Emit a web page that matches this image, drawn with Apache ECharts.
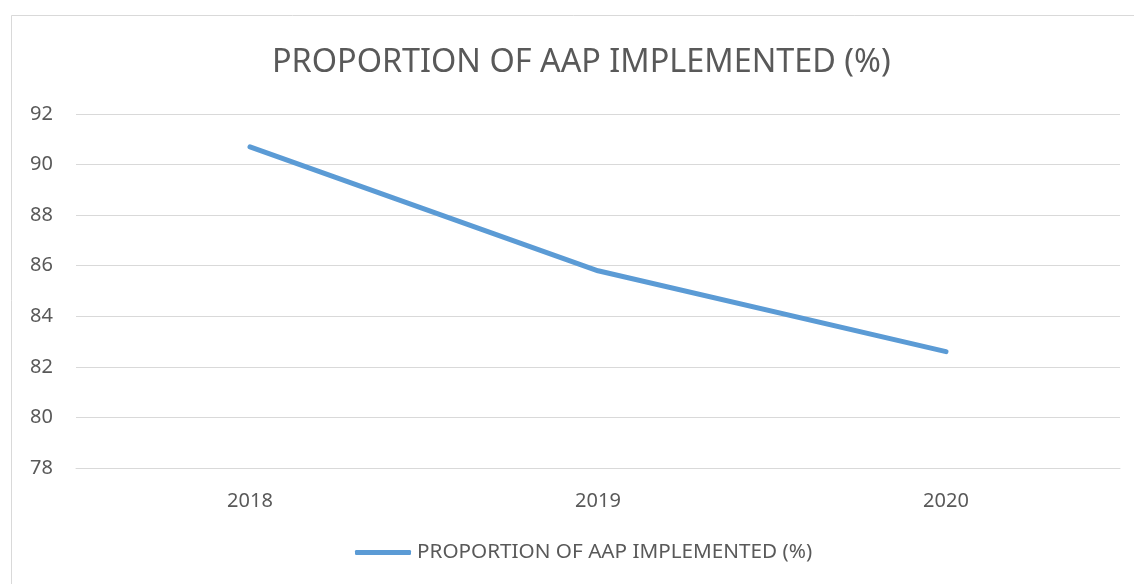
<!DOCTYPE html>
<html>
<head>
<meta charset="utf-8">
<script src="https://cdn.jsdelivr.net/npm/echarts@6/dist/echarts.min.js"></script>
<style>html,body{margin:0;padding:0;background:#fff;}#c{width:1134px;height:584px;}</style>
</head>
<body>
<div id="c"></div>
<script>
var categories = ['2018', '2019', '2020'];
var seriesName = 'PROPORTION OF AAP IMPLEMENTED (%)';
var values = [90.7, 85.8, 82.6];
var titleText = 'PROPORTION OF AAP IMPLEMENTED (%)';

var chart = echarts.init(document.getElementById('c'));
var font = 'Noto Sans';
chart.setOption({
  animation: false,
  backgroundColor: '#fff',
  graphic: [{
    type: 'rect', shape: {x: 11.5, y: 15.5, width: 1140, height: 600},
    style: {fill: 'none', stroke: '#d9d9d9', lineWidth: 1}, silent: true
  }],
  title: {
    text: titleText, left: 267, top: 42,
    textStyle: {fontFamily: font, fontSize: 32.4, fontWeight: 'normal', color: '#595959'}
  },
  legend: {
    bottom: 16, left: 350, itemWidth: 56, itemHeight: 5, itemGap: 4,
    icon: 'roundRect',
    data: [{name: seriesName}],
    textStyle: {fontFamily: font, fontSize: 20.7, color: '#595959', padding: [0, 0, 0, 1]}
  },
  grid: {left: 76, right: 14, top: 114, bottom: 116, containLabel: false},
  xAxis: {
    type: 'category', data: categories, boundaryGap: true,
    axisLine: {show: true, lineStyle: {color: '#d9d9d9', width: 1}},
    axisTick: {show: false},
    axisLabel: {fontFamily: font, fontSize: 20, color: '#595959', margin: 23}
  },
  yAxis: {
    type: 'value', min: 78, max: 92, interval: 2,
    axisLine: {show: false}, axisTick: {show: false},
    splitLine: {lineStyle: {color: '#d9d9d9', width: 1}},
    axisLabel: {fontFamily: font, fontSize: 20, color: '#595959', margin: 23}
  },
  series: [{
    name: seriesName, type: 'line', data: values, symbol: 'none',
    lineStyle: {color: '#5b9bd5', width: 5, cap: 'round', join: 'round'},
    itemStyle: {color: '#5b9bd5'}
  }]
});
</script>
</body>
</html>
